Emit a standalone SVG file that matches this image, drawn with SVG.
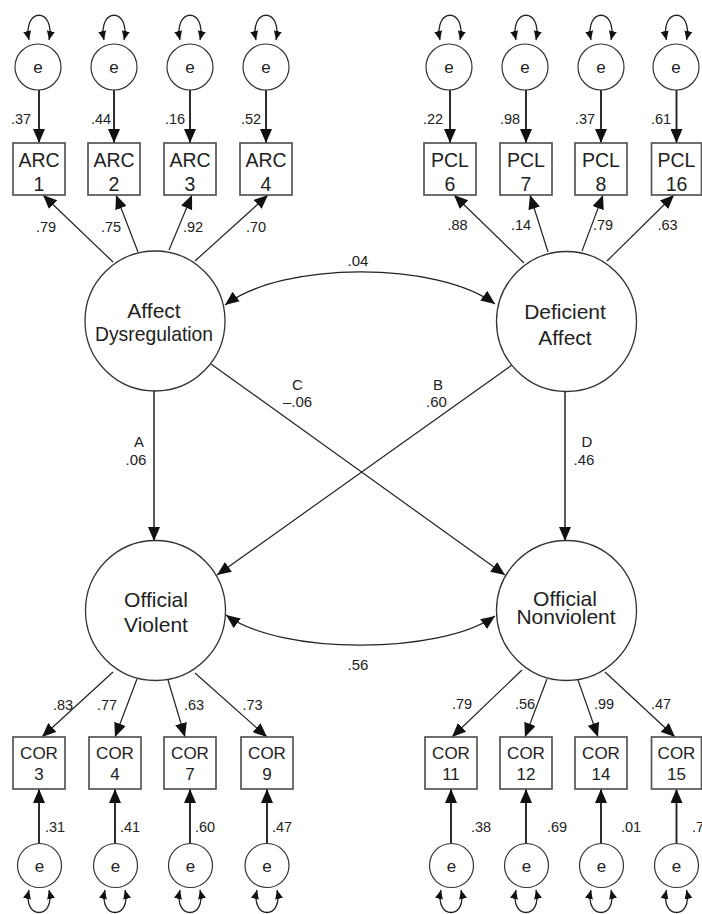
<svg xmlns="http://www.w3.org/2000/svg" width="702" height="914" viewBox="0 0 702 914">
  <style>
    text { font-family: "Liberation Sans", Arial, Helvetica, sans-serif; fill: #222; text-anchor: middle; }
    .lat { fill: #fff; stroke: #333; stroke-width: 1.3; }
    .err { fill: #fff; stroke: #333; stroke-width: 1.2; }
    .box { fill: #fff; stroke: #555; stroke-width: 1.7; }
    .latt { font-size: 21px; }
    .boxt { font-size: 19.5px; }
    .boxb { font-size: 17px; }
    .et { font-size: 17px; }
    .num { font-size: 14.5px; }
    .mid { font-size: 15px; }
    .ld { stroke: #222; stroke-width: 1.2; fill: none; marker-end: url(#ah); }
    .ea { stroke: #222; stroke-width: 1.9; fill: none; marker-end: url(#ah); }
    .st { stroke: #222; stroke-width: 1.5; fill: none; marker-end: url(#ah); }
    .cv { stroke: #222; stroke-width: 1.3; fill: none; marker-start: url(#ah2); marker-end: url(#ah2); }
    .lp { stroke: #222; stroke-width: 1.3; fill: none; marker-start: url(#as); marker-end: url(#as); }
  </style>
  <defs>
    <marker id="ah" viewBox="0 0 14 12" refX="14" refY="6" markerWidth="14" markerHeight="12" markerUnits="userSpaceOnUse" orient="auto">
      <path d="M0,0 L14,6 L0,12 Z" fill="#111"/>
    </marker>
    <marker id="ah2" viewBox="0 0 14 12" refX="14" refY="6" markerWidth="14" markerHeight="12" markerUnits="userSpaceOnUse" orient="auto-start-reverse">
      <path d="M0,0 L14,6 L0,12 Z" fill="#111"/>
    </marker>
    <marker id="as" viewBox="0 0 9 8" refX="9" refY="4" markerWidth="9" markerHeight="8" markerUnits="userSpaceOnUse" orient="auto-start-reverse">
      <path d="M0,0 L9,4 L0,8 Z" fill="#111"/>
    </marker>
  </defs>

  <!-- connectors -->
  <g id="connectors">
    <!-- error terms to ARC indicators -->
    <line class="ea" x1="39" y1="90" x2="39" y2="143"/>
    <line class="ea" x1="114" y1="90" x2="114" y2="143"/>
    <line class="ea" x1="190" y1="90" x2="190" y2="143"/>
    <line class="ea" x1="266" y1="90" x2="266" y2="143"/>
    <!-- error terms to PCL indicators -->
    <line class="ea" x1="450" y1="90" x2="450" y2="143"/>
    <line class="ea" x1="526" y1="90" x2="526" y2="143"/>
    <line class="ea" x1="601" y1="90" x2="601" y2="143"/>
    <line class="ea" x1="676.5" y1="90" x2="676.5" y2="143"/>
    <!-- error terms to COR indicators -->
    <line class="ea" x1="39" y1="843" x2="39" y2="789"/>
    <line class="ea" x1="115" y1="843" x2="115" y2="789"/>
    <line class="ea" x1="190" y1="843" x2="190" y2="789"/>
    <line class="ea" x1="267" y1="843" x2="267" y2="789"/>
    <line class="ea" x1="451" y1="843" x2="451" y2="789"/>
    <line class="ea" x1="526" y1="843" x2="526" y2="789"/>
    <line class="ea" x1="601" y1="843" x2="601" y2="789"/>
    <line class="ea" x1="676.5" y1="843" x2="676.5" y2="789"/>

    <!-- variance loops -->
    <path class="lp" d="M29,40 C22,7 56,7 49,40"/>
    <path class="lp" d="M104,40 C97,7 131,7 124,40"/>
    <path class="lp" d="M180,40 C173,7 207,7 200,40"/>
    <path class="lp" d="M256,40 C249,7 283,7 276,40"/>
    <path class="lp" d="M440,40 C433,7 467,7 460,40"/>
    <path class="lp" d="M516,40 C509,7 543,7 536,40"/>
    <path class="lp" d="M591,40 C584,7 618,7 611,40"/>
    <path class="lp" d="M666.5,40 C659.5,7 693.5,7 686.5,40"/>
    <path class="lp" d="M29,890 C22,920 56,920 49,890"/>
    <path class="lp" d="M105,890 C98,920 132,920 125,890"/>
    <path class="lp" d="M180,890 C173,920 207,920 200,890"/>
    <path class="lp" d="M257,890 C250,920 284,920 277,890"/>
    <path class="lp" d="M441,890 C434,920 468,920 461,890"/>
    <path class="lp" d="M516,890 C509,920 543,920 536,890"/>
    <path class="lp" d="M591,890 C584,920 618,920 611,890"/>
    <path class="lp" d="M666.5,890 C659.5,920 693.5,920 686.5,890"/>

    <!-- factor loadings -->
    <line class="ld" x1="113" y1="262" x2="43" y2="195"/>
    <line class="ld" x1="138" y1="252" x2="116" y2="195"/>
    <line class="ld" x1="169" y1="250" x2="192" y2="195"/>
    <line class="ld" x1="195" y1="261" x2="268" y2="195"/>
    <line class="ld" x1="524" y1="263" x2="454" y2="195"/>
    <line class="ld" x1="548" y1="252" x2="530" y2="195"/>
    <line class="ld" x1="582" y1="251" x2="603" y2="195"/>
    <line class="ld" x1="607" y1="261" x2="674" y2="195"/>
    <line class="ld" x1="113" y1="672" x2="42" y2="737"/>
    <line class="ld" x1="137" y1="679" x2="115" y2="737"/>
    <line class="ld" x1="168" y1="680" x2="185" y2="737"/>
    <line class="ld" x1="195" y1="673" x2="267" y2="737"/>
    <line class="ld" x1="522" y1="670" x2="452" y2="737"/>
    <line class="ld" x1="547" y1="679" x2="525" y2="737"/>
    <line class="ld" x1="578" y1="680" x2="598" y2="737"/>
    <line class="ld" x1="605" y1="672" x2="675" y2="737"/>

    <!-- structural paths -->
    <line class="st" x1="154" y1="391" x2="154" y2="541"/>
    <line class="st" x1="565" y1="392" x2="565" y2="541"/>
    <line class="ld" x1="211" y1="364" x2="505" y2="575"/>
    <line class="ld" x1="512" y1="365" x2="217" y2="575"/>

    <!-- covariances -->
    <path class="cv" d="M225,305 C283,261 437,261 495,304"/>
    <path class="cv" d="M226,615 C280,655 440,655 495,616"/>
  </g>

  <!-- latent factors -->
  <g id="affect-dysregulation">
    <circle class="lat" cx="155" cy="321" r="70"/>
    <text class="latt" x="154" y="317.5">Affect</text>
    <text class="latt" x="154" y="341" textLength="118" lengthAdjust="spacingAndGlyphs">Dysregulation</text>
  </g>
  <g id="deficient-affect">
    <circle class="lat" cx="566.5" cy="321.5" r="70"/>
    <text class="latt" x="565" y="318.5">Deficient</text>
    <text class="latt" x="565" y="344.5">Affect</text>
  </g>
  <g id="official-violent">
    <circle class="lat" cx="155.5" cy="610.5" r="70"/>
    <text class="latt" x="156" y="606.5">Official</text>
    <text class="latt" x="156" y="631.5">Violent</text>
  </g>
  <g id="official-nonviolent">
    <circle class="lat" cx="566.5" cy="610.5" r="70"/>
    <text class="latt" x="565" y="605.5">Official</text>
    <text class="latt" x="566" y="624">Nonviolent</text>
  </g>

  <!-- ARC indicators -->
  <g id="arc1"><rect class="box" x="13" y="143" width="52" height="52"/><text class="boxt" x="39" y="167">ARC</text><text class="boxt" x="39" y="191">1</text></g>
  <g id="arc2"><rect class="box" x="88" y="143" width="52" height="52"/><text class="boxt" x="114" y="167">ARC</text><text class="boxt" x="114" y="191">2</text></g>
  <g id="arc3"><rect class="box" x="164" y="143" width="52" height="52"/><text class="boxt" x="190" y="167">ARC</text><text class="boxt" x="190" y="191">3</text></g>
  <g id="arc4"><rect class="box" x="240" y="143" width="52" height="52"/><text class="boxt" x="266" y="167">ARC</text><text class="boxt" x="266" y="191">4</text></g>

  <!-- PCL indicators -->
  <g id="pcl6"><rect class="box" x="424" y="143" width="52" height="52"/><text class="boxt" x="450" y="167">PCL</text><text class="boxt" x="450" y="191">6</text></g>
  <g id="pcl7"><rect class="box" x="500" y="143" width="52" height="52"/><text class="boxt" x="526" y="167">PCL</text><text class="boxt" x="526" y="191">7</text></g>
  <g id="pcl8"><rect class="box" x="575" y="143" width="52" height="52"/><text class="boxt" x="601" y="167">PCL</text><text class="boxt" x="601" y="191">8</text></g>
  <g id="pcl16"><rect class="box" x="651.5" y="143" width="50" height="52"/><text class="boxt" x="676.5" y="167">PCL</text><text class="boxt" x="676.5" y="191">16</text></g>

  <!-- COR indicators -->
  <g id="cor3"><rect class="box" x="13" y="737" width="52" height="52"/><text class="boxb" x="39" y="759">COR</text><text class="boxb" x="39" y="780">3</text></g>
  <g id="cor4"><rect class="box" x="89" y="737" width="52" height="52"/><text class="boxb" x="115" y="759">COR</text><text class="boxb" x="115" y="780">4</text></g>
  <g id="cor7"><rect class="box" x="164" y="737" width="52" height="52"/><text class="boxb" x="190" y="759">COR</text><text class="boxb" x="190" y="780">7</text></g>
  <g id="cor9"><rect class="box" x="241" y="737" width="52" height="52"/><text class="boxb" x="267" y="759">COR</text><text class="boxb" x="267" y="780">9</text></g>
  <g id="cor11"><rect class="box" x="425" y="737" width="52" height="52"/><text class="boxb" x="451" y="759">COR</text><text class="boxb" x="451" y="780">11</text></g>
  <g id="cor12"><rect class="box" x="500" y="737" width="52" height="52"/><text class="boxb" x="526" y="759">COR</text><text class="boxb" x="526" y="780">12</text></g>
  <g id="cor14"><rect class="box" x="575" y="737" width="52" height="52"/><text class="boxb" x="601" y="759">COR</text><text class="boxb" x="601" y="780">14</text></g>
  <g id="cor15"><rect class="box" x="651.5" y="737" width="50" height="52"/><text class="boxb" x="676.5" y="759">COR</text><text class="boxb" x="676.5" y="780">15</text></g>

  <!-- error terms -->
  <g id="e-arc1"><circle class="err" cx="38" cy="67" r="23"/><text class="et" x="38" y="73">e</text></g>
  <g id="e-arc2"><circle class="err" cx="114" cy="67" r="23"/><text class="et" x="114" y="73">e</text></g>
  <g id="e-arc3"><circle class="err" cx="190" cy="67" r="23"/><text class="et" x="190" y="73">e</text></g>
  <g id="e-arc4"><circle class="err" cx="266" cy="67" r="23"/><text class="et" x="266" y="73">e</text></g>
  <g id="e-pcl6"><circle class="err" cx="449" cy="67" r="23"/><text class="et" x="449" y="73">e</text></g>
  <g id="e-pcl7"><circle class="err" cx="525" cy="67" r="23"/><text class="et" x="525" y="73">e</text></g>
  <g id="e-pcl8"><circle class="err" cx="601" cy="67" r="23"/><text class="et" x="601" y="73">e</text></g>
  <g id="e-pcl16"><circle class="err" cx="676" cy="67" r="23"/><text class="et" x="676" y="73">e</text></g>
  <g id="e-cor3"><circle class="err" cx="39.5" cy="865.5" r="22"/><text class="et" x="39.5" y="871.5">e</text></g>
  <g id="e-cor4"><circle class="err" cx="115.5" cy="865.5" r="22"/><text class="et" x="115.5" y="871.5">e</text></g>
  <g id="e-cor7"><circle class="err" cx="190.5" cy="865.5" r="22"/><text class="et" x="190.5" y="871.5">e</text></g>
  <g id="e-cor9"><circle class="err" cx="267" cy="865.5" r="22"/><text class="et" x="267" y="871.5">e</text></g>
  <g id="e-cor11"><circle class="err" cx="451.5" cy="865.5" r="22"/><text class="et" x="451.5" y="871.5">e</text></g>
  <g id="e-cor12"><circle class="err" cx="526.5" cy="865.5" r="22"/><text class="et" x="526.5" y="871.5">e</text></g>
  <g id="e-cor14"><circle class="err" cx="601.5" cy="865.5" r="22"/><text class="et" x="601.5" y="871.5">e</text></g>
  <g id="e-cor15"><circle class="err" cx="676.5" cy="865.5" r="22"/><text class="et" x="676.5" y="871.5">e</text></g>

  <!-- coefficient labels -->
  <g id="labels">
    <text class="num" x="21" y="124">.37</text>
    <text class="num" x="101" y="124">.44</text>
    <text class="num" x="175" y="124">.16</text>
    <text class="num" x="251" y="124">.52</text>
    <text class="num" x="433" y="124">.22</text>
    <text class="num" x="510" y="124">.98</text>
    <text class="num" x="585" y="124">.37</text>
    <text class="num" x="661" y="124">.61</text>

    <text class="num" x="46" y="232">.79</text>
    <text class="num" x="111" y="232">.75</text>
    <text class="num" x="193" y="232">.92</text>
    <text class="num" x="256" y="232">.70</text>
    <text class="num" x="457.5" y="230">.88</text>
    <text class="num" x="521" y="230">.14</text>
    <text class="num" x="603" y="230">.79</text>
    <text class="num" x="667.5" y="230">.63</text>

    <text class="num" x="63" y="710">.83</text>
    <text class="num" x="107" y="710">.77</text>
    <text class="num" x="194" y="710">.63</text>
    <text class="num" x="252.5" y="710">.73</text>
    <text class="num" x="462" y="709">.79</text>
    <text class="num" x="525" y="709">.56</text>
    <text class="num" x="604" y="709">.99</text>
    <text class="num" x="661" y="709">.47</text>

    <text class="num" x="55" y="832">.31</text>
    <text class="num" x="130" y="832">.41</text>
    <text class="num" x="205" y="832">.60</text>
    <text class="num" x="282" y="832">.47</text>
    <text class="num" x="481" y="832">.38</text>
    <text class="num" x="557" y="832">.69</text>
    <text class="num" x="631" y="832">.01</text>
    <text class="num" x="692" y="832" style="text-anchor:start">.78</text>

    <text class="mid" x="358" y="266">.04</text>
    <text class="mid" x="297.5" y="389.5">C</text>
    <text class="mid" x="297.5" y="407">–.06</text>
    <text class="mid" x="438" y="389.5">B</text>
    <text class="mid" x="436.5" y="407">.60</text>
    <text class="mid" x="139" y="446.5">A</text>
    <text class="mid" x="136" y="464.5">.06</text>
    <text class="mid" x="587" y="446.5">D</text>
    <text class="mid" x="584" y="464.5">.46</text>
    <text class="mid" x="358" y="669.5">.56</text>
  </g>
</svg>
